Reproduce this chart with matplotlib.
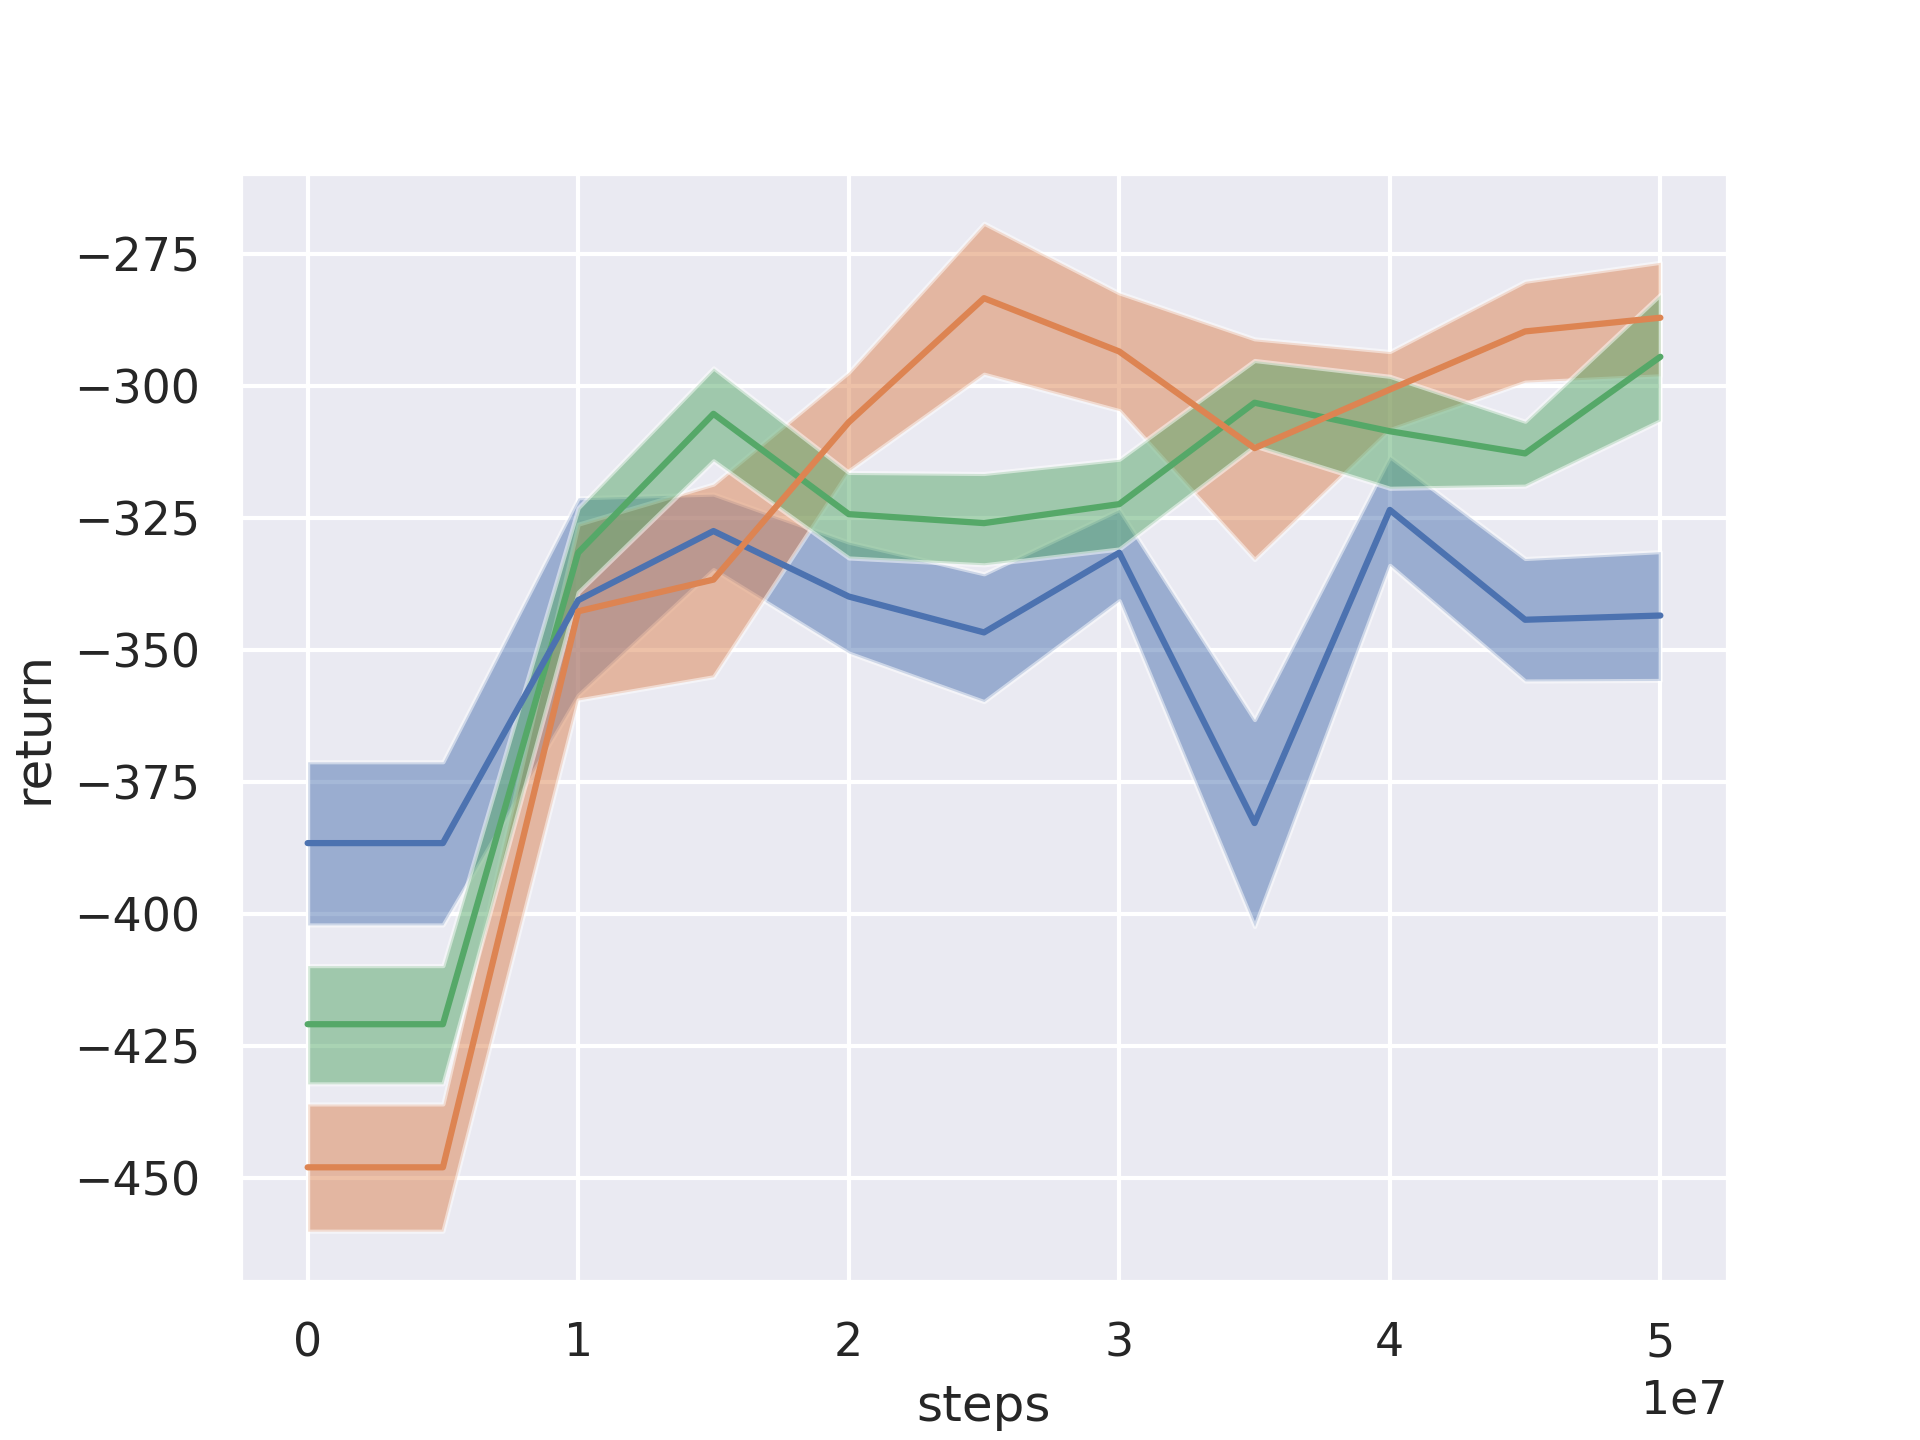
import numpy as np
import matplotlib
matplotlib.use("Agg")
import matplotlib.pyplot as plt
import seaborn as sns

sns.set_theme()

steps = np.array([0, 5, 10, 15, 20, 25, 30, 35, 40, 45, 50]) * 1e6

# mean and band (lower / upper) per run
blue_mean = [-386.5, -386.5, -340.5, -327.4, -339.8, -346.6, -331.5, -382.7, -323.4, -344.2, -343.4]
blue_low = [-402.0, -402.0, -358.5, -334.7, -350.5, -359.7, -340.6, -402.3, -333.9, -355.8, -355.7]
blue_high = [-371.1, -371.1, -321.1, -320.4, -329.5, -335.5, -323.3, -363.1, -313.3, -332.6, -331.3]

orange_mean = [-447.9, -447.9, -342.6, -336.6, -306.8, -283.3, -293.4, -311.7, -300.6, -289.6, -287.0]
orange_low = [-460.0, -460.0, -359.4, -355.0, -316.0, -297.7, -304.6, -332.8, -308.2, -299.2, -298.0]
orange_high = [-435.9, -435.9, -326.1, -318.5, -297.3, -269.1, -282.3, -291.0, -293.4, -280.1, -276.5]

green_mean = [-420.8, -420.8, -331.5, -305.2, -324.2, -325.9, -322.3, -303.1, -308.5, -312.7, -294.4]
green_low = [-432.1, -432.1, -339.0, -314.1, -332.5, -333.8, -330.8, -311.3, -319.3, -318.9, -306.5]
green_high = [-409.7, -409.7, -323.0, -296.5, -316.3, -316.5, -313.8, -295.1, -298.1, -306.6, -282.6]

colors = sns.color_palette("deep")
means = [blue_mean, orange_mean, green_mean]
bands = [(blue_low, blue_high), (orange_low, orange_high), (green_low, green_high)]

fig, ax = plt.subplots(figsize=(6.4, 4.8))
# bands: blue, orange, green (green on top)
for i, (lo, hi) in enumerate(bands):
    ax.fill_between(steps, lo, hi, facecolor=colors[i], edgecolor="white",
                    linewidth=1.0, alpha=0.5)
# lines: green under blue under orange
for i in [2, 0, 1]:
    ax.plot(steps, means[i], color=colors[i])

ax.set_xlabel("steps")
ax.set_ylabel("return")
fig.savefig("out.png", dpi=300)
